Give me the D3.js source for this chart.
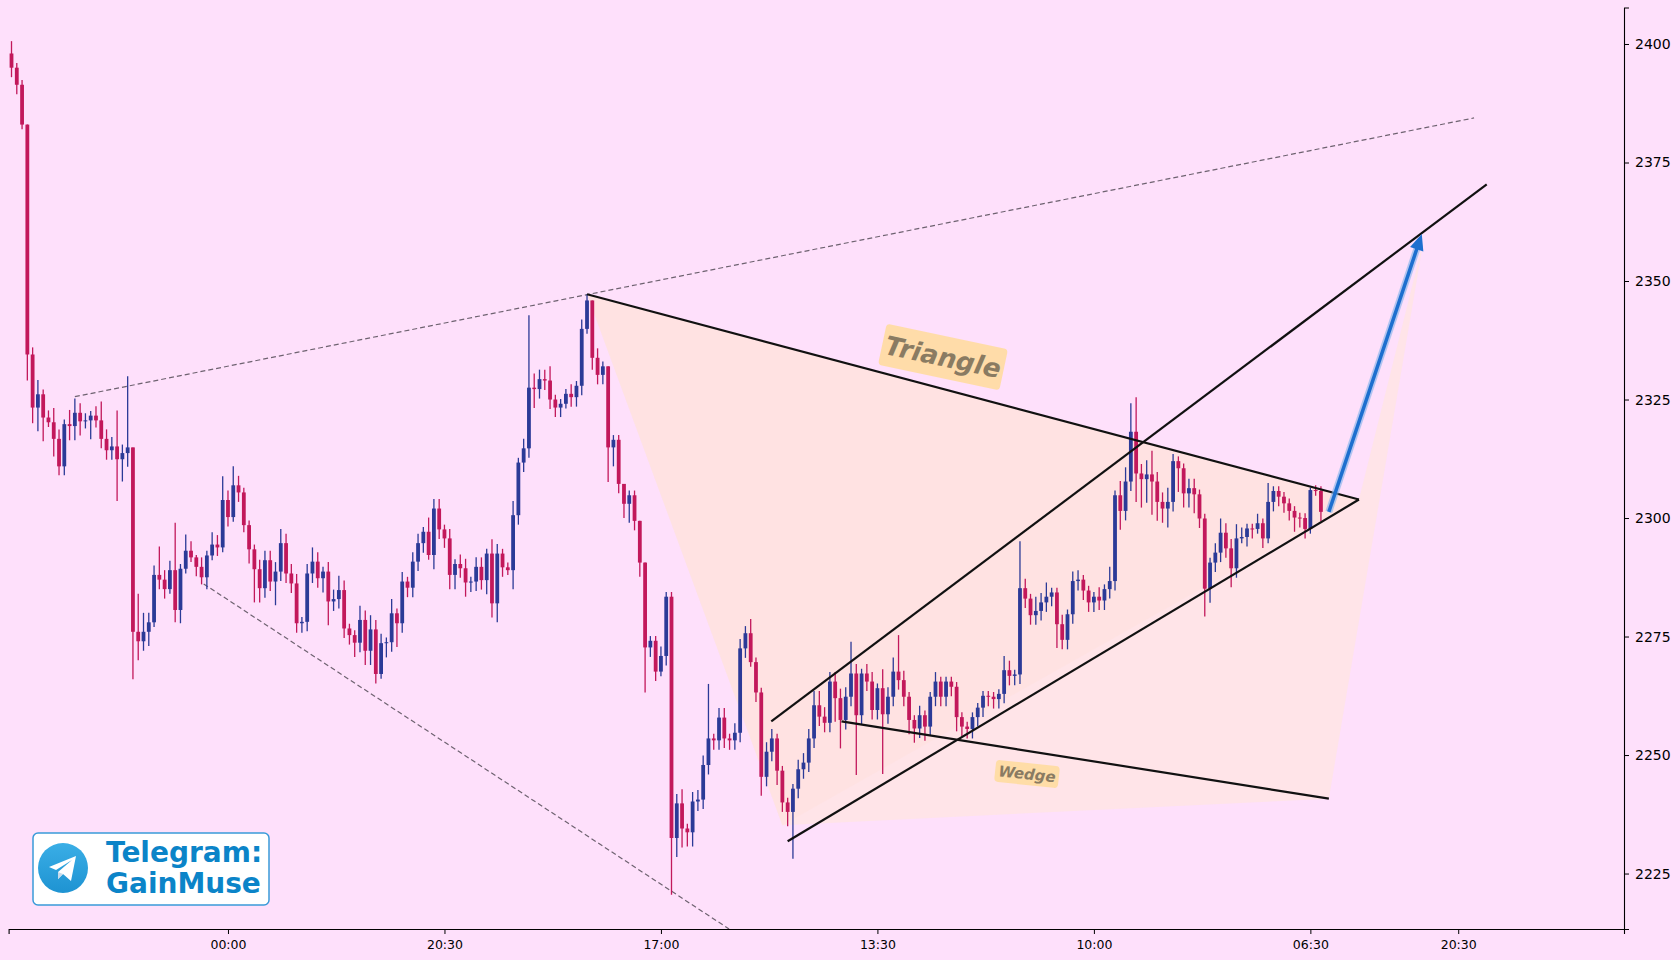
<!DOCTYPE html>
<html><head><meta charset="utf-8">
<script src="https://cdn.jsdelivr.net/npm/d3@7/dist/d3.min.js"></script>
<style>body{margin:0;background:#fee0fb}svg{display:block}</style>
</head><body><svg id="c" width="1680" height="960"></svg>
<script>
const firstOpen = 2398;
const closes = [2395,2391.4,2383,2334.5,2323.3,2326.1,2321.2,2320.2,2316.7,2310.9,
2319.8,2319.4,2322.2,2320.4,2320.6,2321.6,2320.6,2316.7,2314.3,2315.1,
2312.4,2313.7,2314.9,2276,2274,2276,2278,2288,2287,2285,
2289,2280.6,2289.3,2293.1,2291.7,2289.7,2287.5,2292.1,2294.4,2293.8,
2303.8,2300.2,2306.9,2305.4,2298.5,2293.4,2289.2,2285.2,2291.1,2286.6,
2288.7,2294.7,2288.3,2286.2,2277.8,2278.1,2288.3,2290.8,2287.3,2288.7,
2282.4,2282.9,2284.8,2276.7,2275.3,2273.7,2278.5,2272,2276.5,2267.1,
2273.6,2273.8,2279.9,2277.8,2286.6,2285.3,2290.8,2294.7,2297.1,2292.2,
2302,2297.6,2295.7,2288,2290.3,2289.4,2286.4,2286.6,2289.7,2286.9,
2292.5,2282,2292.5,2289.6,2289,2300.6,2311.7,2314.7,2327.5,2327.2,
2329.3,2329,2325,2323.3,2324.1,2326.2,2325.5,2327.9,2339.9,2345.9,
2333.8,2330.2,2332,2314.9,2316.5,2307.2,2303,2304.8,2299.4,2290.6,
2272.7,2274.1,2267.6,2270.9,2283.4,2232.5,2239.8,2234.5,2233.7,2240.2,
2240.6,2247.9,2253.5,2253.1,2257.9,2253.5,2253.1,2254.7,2272.5,2275.7,
2269.6,2263.2,2245.4,2250.7,2253.5,2246.7,2240,2238,2242.9,2247,
2248.4,2253.5,2260.5,2258.1,2256.8,2265.5,2262,2257.4,2262.3,2267.2,
2258.4,2267.2,2265.5,2259.5,2264.1,2258.6,2262.3,2267.6,2265.8,2262.3,
2257.4,2255.6,2258.4,2256,2262.3,2265.5,2262.3,2265.5,2264.4,2258,
2256,2255.5,2258,2260,2262.5,2262.3,2261.8,2262.9,2267.9,2266.7,
2267,2285.2,2283,2279.5,2280.4,2282.2,2283.4,2284.3,2277.6,2274.3,
2279.7,2286.7,2287,2284.7,2282.2,2283.4,2282.6,2285,2286.7,2304.8,
2301.5,2307.7,2318.2,2309.4,2308.2,2309.2,2307.7,2303.4,2302,2303.4,
2312,2310.5,2305.2,2306.3,2305,2299.9,2285.1,2290.6,2292.7,2296.9,
2293.6,2289.4,2295.7,2296,2297.8,2297.7,2298.9,2295.7,2303.4,2305.7,
2304.5,2303.1,2301.5,2300.1,2300,2297.7,2305.9,2305.7,2301.3];
const upperWick = [2.6,1,1,0,1.5,3,1,1.5,3,2, 1,3,3,2,1.5,1,2,4,2,2, 7.6,1.8,15,0,8,4,2,2,6,2,
2,10,1,3.4,2,0.5,2,1,2.6,2, 5,2,4,2,1,1,1,2,2,2, 2,3,2,2,2,1,2,3,2,1, 2,2,3,2,1,1,3,2,3,2,
2,1,3,1,2,1,2,2,1,3, 2,2,1,2,1,2,2,1,2,2, 1,3,2,1,1,3,1,2,15.3,3, 2,2,3,1,1,1,2,1,2,1.3,
0,2,1,0,1,1,0,1,1,0, 0,1,1,2,1,1,2,3,1,2, 2,2,11.5,1,2,2,1,2,2,1.5, 3,1,1,2,2,1,1,1,1,2,
2,2,3,3,2,2,2,2,2,6.7, 2,1,2,2,1,4,2,3,7.7,2, 1,1,2,1,1,2,1,1,1,1, 1,1,1,1,1,1,1,1,3,2,
1,9.9,2,1,3,2,3,1,1,2, 1,2,2,1,1,1,2,1,3,1, 3,3,6,7.3,2,3,5,2,2,3, 1.5,1,1,2,2,1,1,1,2,3,
2,2,3,2,1,1,2,1,4,1, 1,1,1,1,1,1,0.5,1,1];
const lowerWick = [2,2,1,5.5,3.3,5,5,1,3.7,1.9, 1.9,3,3,3,1.5,4,1.5,2,2,2, 8.8,4.7,2.9,10,4,2,3,1,2,2,
1,2.6,2.8,1,1,2,1.5,2.5,1,1.8, 1,2,1,2,1.5,3,7,3,2,2, 5,2,2,2,2,2,2,2,2,3, 5,2,2,2,2,3,2,3,3,2,
1,3,2,5,2,2,2,2,2,1, 3,2,2,3,3,2,3,2,2,2, 3,3,4,2,1,4,2,2,2,4, 2,2,2,2,2,1,2,2,2,1,
2.5,2,2,7.3,4,2,3,4,2,3, 9.5,2,2,1,2,12,4,4,3,3, 2,2,2,2,2,2,2,2,2,2, 1,2,4,2,2,3,2,3,9.9,2,
2,2,2,2,2,2,5,6,2,2, 12.6,2,2,2,2,12.6,2,2,2,2, 3,3,2,3,2,2,2,2,2,3, 2,2,2,2,2,2,2,2,2,2,
2,2,2,2,2,2,2,2,5,2, 2,2,2,2,2,2,2,2,2,2, 4,2,2,6,6,5,7,4,3,4, 2,5,3,3,4,2,5.9,3,2,2,
2,4,2,1,2,2,1,2,1,2, 2,2,2,3,2,2,1,1,2];
const xTickIdx = [41,82,123,164,205,246,274];
const xTickLabels = ["00:00","20:30","17:00","13:30","10:00","06:30","20:30"];
const yTicks = [2225,2250,2275,2300,2325,2350,2375,2400];
const dashUpper = [[12,2325.6],[277,2384.4]];
const dashLower = [[36.4,2286.1],[135.9,2213.3]];
const triTop = [[109,2347.2],[255.2,2303.9]];
const channelTop = [[143.9,2257.1],[279.4,2370.4]];
const channelBottom = [[147,2231.8],[255.2,2303.9]];
const wedgeLow = [[157.2,2257.1],[249.5,2240.8]];
const fillPoly = [[109,2347.2],[146,2235.2],[249.5,2240.8],[267.4,2358.4],[255.2,2303.9]];
const triFill = [[109,2347.2],[146,2235.2],[255.2,2303.9]];
const arrowPts = [[249.5,2301.3],[267.1,2359.9]];

const svg = d3.select("#c");
const x = d3.scaleLinear().domain([-0.55,305.4]).range([8.6,1624]);
const y = d3.scaleLinear().domain([2213.3,2407.7]).range([929,7.5]);
svg.append("rect").attr("width",1680).attr("height",960).attr("fill","#fee0fb");

const P = p => [x(p[0]),y(p[1])];
const line = d3.line().x(d=>x(d[0])).y(d=>y(d[1]));
svg.append("path").attr("d",line(fillPoly)+"Z").attr("fill","#ffe6e0").attr("opacity",0.7);
svg.append("path").attr("d",line(triFill)+"Z").attr("fill","#ffdfdc").attr("opacity",0.45);

[dashUpper,dashLower].forEach(l=>svg.append("path").attr("d",line(l)).attr("stroke","#6e6270")
  .attr("stroke-width",1.2).attr("stroke-dasharray","5,3").attr("fill","none"));

const n = closes.length;
const data = d3.range(n).map(i=>{
  const o = i===0?firstOpen:closes[i-1], c = closes[i];
  return {i,o,c,h:Math.max(o,c)+(upperWick[i]||0),l:Math.min(o,c)-(lowerWick[i]||0)};
});
const g = svg.append("g");
data.forEach(d=>{
  const col = d.c>=d.o ? "#2b3a97" : "#c2185b";
  g.append("line").attr("x1",x(d.i)).attr("x2",x(d.i)).attr("y1",y(d.h)).attr("y2",y(d.l))
    .attr("stroke",col).attr("stroke-width",1.3);
  const top=y(Math.max(d.o,d.c)), bot=y(Math.min(d.o,d.c));
  g.append("rect").attr("x",x(d.i)-1.9).attr("width",3.8).attr("y",top).attr("height",Math.max(bot-top,1))
    .attr("fill",col);
});

[triTop,channelTop,channelBottom,wedgeLow].forEach(l=>svg.append("path").attr("d",line(l))
  .attr("stroke","#111").attr("stroke-width",2.2).attr("fill","none"));

const a0=P(arrowPts[0]), a1=P(arrowPts[1]);
const ang=Math.atan2(a1[1]-a0[1],a1[0]-a0[0]);
svg.append("line").attr("x1",a0[0]).attr("y1",a0[1]).attr("x2",a1[0]-10*Math.cos(ang)).attr("y2",a1[1]-10*Math.sin(ang))
  .attr("stroke","#7fb3ea").attr("stroke-width",7).attr("opacity",0.6);
svg.append("line").attr("x1",a0[0]).attr("y1",a0[1]).attr("x2",a1[0]-10*Math.cos(ang)).attr("y2",a1[1]-10*Math.sin(ang))
  .attr("stroke","#1d6fcf").attr("stroke-width",3.5);
const hp=[[a1[0],a1[1]],[a1[0]-16*Math.cos(ang)+7*Math.sin(ang),a1[1]-16*Math.sin(ang)-7*Math.cos(ang)],
 [a1[0]-16*Math.cos(ang)-7*Math.sin(ang),a1[1]-16*Math.sin(ang)+7*Math.cos(ang)]];
svg.append("polygon").attr("points",hp.map(p=>p.join(",")).join(" ")).attr("fill","#1d6fcf");

function tag(cx,cy,rot,w,h,txt,fs){
  const t=svg.append("g").attr("transform",`translate(${cx},${cy}) rotate(${rot})`);
  t.append("rect").attr("x",-w/2).attr("y",-h/2).attr("width",w).attr("height",h).attr("rx",4).attr("fill","#ffdca0").attr("opacity",0.9);
  t.append("text").attr("text-anchor","middle").attr("dy","0.35em").attr("font-family","DejaVu Sans")
   .attr("font-weight","bold").attr("font-style","italic").attr("font-size",fs).attr("fill","#8a7b62").text(txt);
}
tag(943,357,12,124,42,"Triangle",26);
tag(1027,774,6,64,22,"Wedge",15);

const yAx = svg.append("g").attr("transform","translate(1624,0)")
  .call(d3.axisRight(y).tickValues(yTicks).tickFormat(d3.format("d")).tickSize(5).tickPadding(6));
yAx.select(".domain").attr("stroke","#000").attr("stroke-width",1.1);
yAx.selectAll("text").attr("font-family","DejaVu Sans").attr("font-size",14).attr("fill","#000");
const xAx = svg.append("g").attr("transform","translate(0,929)")
  .call(d3.axisBottom(x).tickValues(xTickIdx).tickFormat((d,i)=>xTickLabels[i]).tickSize(5).tickPadding(6));
xAx.select(".domain").attr("stroke","#000").attr("stroke-width",1.1);
xAx.selectAll("text").attr("font-family","DejaVu Sans").attr("font-size",12.5).attr("fill","#000");

const tg=svg.append("g");
tg.append("rect").attr("x",33).attr("y",833).attr("width",236).attr("height",72).attr("rx",5)
  .attr("fill","#fff").attr("stroke","#3a9ad9").attr("stroke-width",1.5);
const grad=svg.append("defs").append("linearGradient").attr("id","tgg").attr("x1",0).attr("y1",0).attr("x2",0).attr("y2",1);
grad.append("stop").attr("offset","0").attr("stop-color","#3aaee6");
grad.append("stop").attr("offset","1").attr("stop-color","#1e93d2");
tg.append("circle").attr("cx",63).attr("cy",868).attr("r",25).attr("fill","url(#tgg)");
tg.append("path").attr("d","M49,867 L76,856 L71,881 L63,874 L58,879 L58,872 L72,860 L56,870 Z").attr("fill","#fff");
tg.append("path").attr("d","M58,872 L58,879 L63,874 Z").attr("fill","#c8daea");
tg.append("text").attr("x",106).attr("y",862).attr("font-family","DejaVu Sans").attr("font-weight","bold")
  .attr("font-size",28).attr("fill","#0b84c8").text("Telegram:");
tg.append("text").attr("x",106).attr("y",893).attr("font-family","DejaVu Sans").attr("font-weight","bold")
  .attr("font-size",28).attr("fill","#0b84c8").text("GainMuse");
</script></body></html>
